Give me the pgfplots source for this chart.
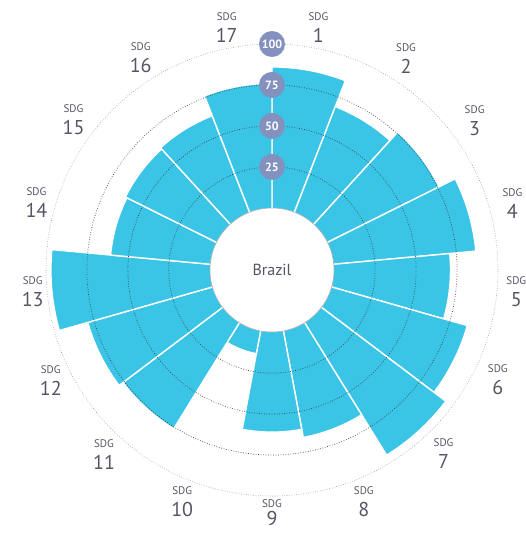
\documentclass[border=0pt]{standalone}
\usepackage{pgfplots}
\pgfplotsset{compat=1.18}
\usepgfplotslibrary{polar}
\usepackage{fontspec}
\setmainfont{PT Sans}
\definecolor{barblue}{RGB}{58,196,230}
\definecolor{bubble}{RGB}{131,145,190}
\definecolor{labelgray}{RGB}{85,85,100}

% one bar per SDG: #1 = SDG number, #2 = score (0-100)
\newcommand{\sdgbar}[2]{%
  \pgfmathsetmacro\ds{450-(#1)*360/17}%
  \pgfmathsetmacro\de{450-(#1-1)*360/17}%
  \addplot[fill=barblue, draw=white, line width=1.4pt, domain=\ds:\de, samples=24, variable=\t]
    ({\t},{#2+38}) -- (axis cs:0,0) -- cycle;}

\newcommand{\lab}[1]{{\fontsize{11}{11}\selectfont SDG}\\#1}

\begin{document}
\begin{tikzpicture}
\begin{polaraxis}[
  name=ax,
  scale only axis, width=452pt, height=452pt,
  xmin=90, xmax=450, ymin=0, ymax=138,
  axis on top,
  axis line style={draw=none},
  major tick length=0pt,
  xtick={439.41,418.24,397.06,375.88,354.71,333.53,312.35,291.18,270,248.82,227.65,206.47,185.29,164.12,142.94,121.76,100.59},
  xticklabels={\lab{1},\lab{2},\lab{3},\lab{4},\lab{5},\lab{6},\lab{7},\lab{8},{{\fontsize{11}{11}\selectfont SDG}\\[-4pt]9},\lab{10},\lab{11},\lab{12},\lab{13},\lab{14},\lab{15},\lab{16},\lab{17}},
  xticklabel style={align=center, font=\fontsize{20}{22}\selectfont, text=labelgray, xshift={max(0,6*cos(\tick))}},
  xmajorgrids=false,
  ytick={63,88,113},
  yticklabels={25,50,75},
  ymajorgrids,
  major grid style={black!75, line width=0.7pt, dash pattern=on 0.7pt off 1.8pt},
  extra y ticks={138}, extra y tick labels={100},
  extra y tick style={grid=major, major grid style={gray!85, line width=0.6pt, dash pattern=on 0.6pt off 1.8pt}},
  yticklabel style={circle, fill=bubble, text=white, inner sep=0pt, minimum size=26pt, font=\fontsize{12}{12}\selectfont\bfseries, anchor=center},
]
\sdgbar{1}{86}
\sdgbar{2}{69}
\sdgbar{3}{76}
\sdgbar{4}{87}
\sdgbar{5}{71}
\sdgbar{6}{86}
\sdgbar{7}{95}
\sdgbar{8}{66}
\sdgbar{9}{61}
\sdgbar{10}{14}
\sdgbar{11}{76}
\sdgbar{12}{79}
\sdgbar{13}{97}
\sdgbar{14}{61}
\sdgbar{15}{62}
\sdgbar{16}{63}
\sdgbar{17}{76}
\addplot[only marks, mark=*, mark size=62pt,
  mark options={fill=white, draw=gray!60, line width=0.6pt},
  nodes near coords={Brazil}, nodes near coords align=center,
  every node near coord/.style={anchor=center, font=\fontsize{16}{16}\selectfont, text=labelgray}]
  coordinates {(0,0)};
\coordinate (C) at (axis cs:0,0);
\end{polaraxis}
\pgfresetboundingbox
\path[use as bounding box] ([shift={(-272pt,-263pt)}]C) rectangle ([shift={(254pt,270pt)}]C);
\end{tikzpicture}
\end{document}
